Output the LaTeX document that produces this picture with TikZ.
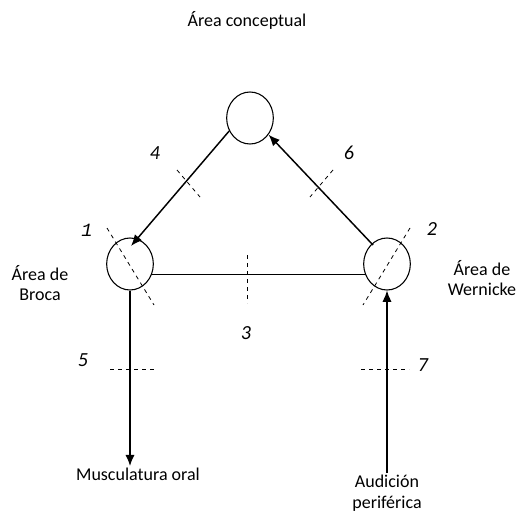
\documentclass[tikz,border=0pt]{standalone}
\usepackage{fontspec}
\setmainfont{Carlito}
\setmonofont{Liberation Mono}
\usetikzlibrary{shapes.geometric,arrows.meta}

\begin{document}
\begin{tikzpicture}[x=0.75pt,y=-0.75pt,
  area/.style={draw,ellipse,line width=0.8pt,minimum width=35pt,minimum height=39pt,inner sep=0pt},
  lbl/.style={font=\fontsize{13.5}{15}\selectfont,align=center,inner sep=1pt},
  num/.style={font=\fontsize{15}{17}\selectfont\itshape},
  corte/.style={line width=0.6pt,dash pattern=on 3pt off 3pt},
  via/.style={line width=1.1pt,-{Latex[length=8.5pt,width=7pt]}}]
  \useasboundingbox (0,0) rectangle (526,514);

  % areas
  \node[lbl] (titulo) at (247,20) {Área conceptual};
  \node[area] (concepto) at (250,118) {};
  \node[area] (broca) at (130,264) {};
  \node[area] (wernicke) at (387,264) {};
  \node[lbl] (lbroca) at (40,283) {Área de\\Broca};
  \node[lbl] (lwernicke) at (482,278) {Área de\\Wernicke};
  \node[lbl] (musculatura) at (138,474) {Musculatura oral};
  \node[lbl,font=\fontsize{13.5}{16}\selectfont] (audicion) at (387,493) {Audición\\periférica};

  % numeros
  \node[num,font=\fontsize{14}{17}\selectfont\ttfamily\itshape] (n1) at (87,230) {1};
  \node[num] (n2) at (432,229) {2};
  \node[num] (n3) at (246,333) {3};
  \node[num] (n4) at (155,153) {4};
  \node[num] (n5) at (83,360) {5};
  \node[num] (n6) at (349,153) {6};
  \node[num] (n7) at (423,365) {7};

  % vias
  \coordinate (broca-in) at (131,246);
  \coordinate (wernicke-in) at (373,245);
  \draw[via] (concepto.212) -- (broca-in);
  \draw[via] (wernicke-in) -- (concepto.-42);
  \draw[line width=0.8pt] (broca.-25) -- (wernicke.205);
  \draw[via] (broca.south) -- (broca.south |- musculatura.north);
  \draw[via] (wernicke.south |- audicion.north) -- (wernicke.south);

  % lesiones
  \draw[corte] (177,170) -- (200,197);
  \draw[corte] (333,170) -- (310,197);
  \draw[corte] (107,228) -- (154,305);
  \draw[corte] (410,228) -- (363,305);
  \draw[corte] (247,255) -- (247,303);
  \draw[corte] (110,369) -- (157,369);
  \draw[corte] (361,369) -- (409,369);

\end{tikzpicture}
\end{document}
